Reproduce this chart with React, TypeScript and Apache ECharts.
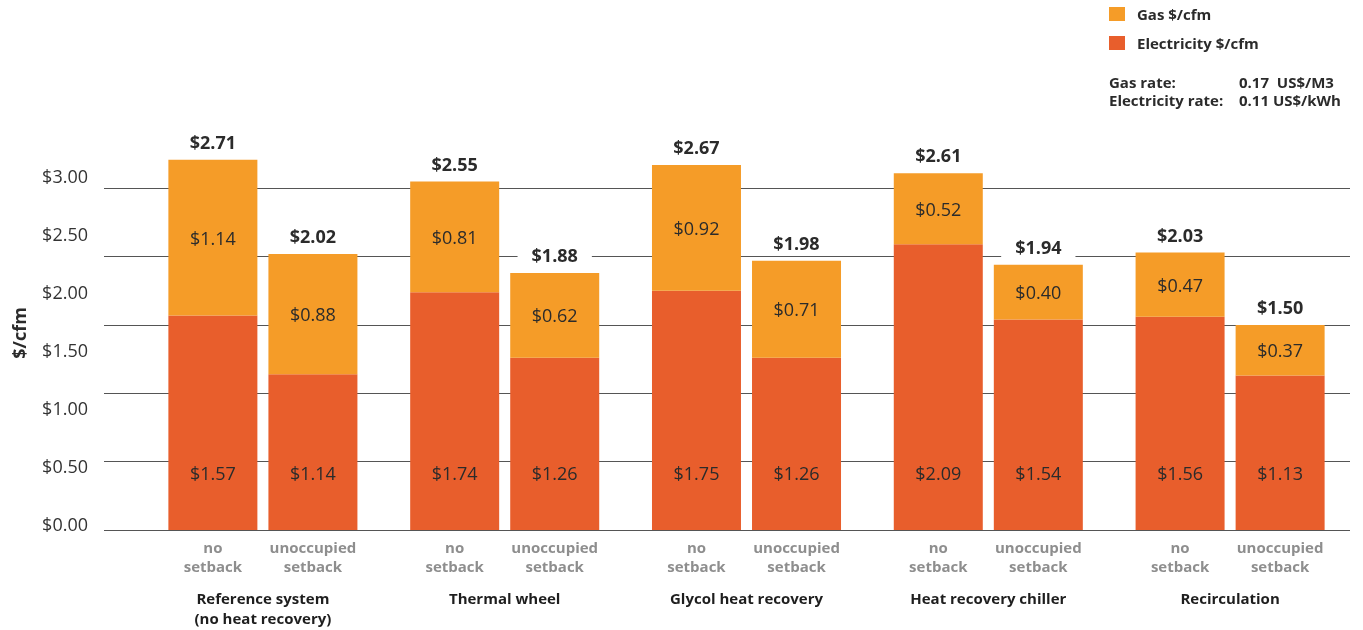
import React, { useEffect, useRef } from "react";
import * as echarts from "echarts";

const FONT = "'Open Sans', 'Noto Sans', sans-serif";

const groups = [
  "Reference system\n(no heat recovery)",
  "Thermal wheel",
  "Glycol heat recovery",
  "Heat recovery chiller",
  "Recirculation",
];
const subLabels = ["no\nsetback", "unoccupied\nsetback"];

const elecNoSetback = [1.57, 1.74, 1.75, 2.09, 1.56];
const gasNoSetback = [1.14, 0.81, 0.92, 0.52, 0.47];
const totalNoSetback = [2.71, 2.55, 2.67, 2.61, 2.03];

const elecUnoccupied = [1.14, 1.26, 1.26, 1.54, 1.13];
const gasUnoccupied = [0.88, 0.62, 0.71, 0.4, 0.37];
const totalUnoccupied = [2.02, 1.88, 1.98, 1.94, 1.5];

const yTickMax = 3;
const yTickStep = 0.5;

const ELEC = "#E85E2C";
const GAS = "#F59C28";
const TXT = "#2b2b2b";

const money = (v: number) => "$" + v.toFixed(2);

function stackSeries(stack: string, sub: string, elec: number[], gas: number[], totals: number[]) {
  return [
    {
      type: "bar",
      name: "_sub_" + stack,
      stack,
      barWidth: 89,
      barGap: "12.4%",
      data: elec.map(() => 0),
      itemStyle: { color: "transparent" },
      silent: true,
      label: {
        show: true,
        position: "bottom",
        distance: 7,
        formatter: () => sub,
        color: "#8e8e8e",
        fontWeight: "bold",
        fontSize: 15,
        lineHeight: 19,
        fontFamily: FONT,
        align: "center",
      },
    },
    {
      type: "bar",
      name: "Electricity $/cfm",
      stack,
      barWidth: 89,
      barGap: "12.4%",
      data: elec,
      itemStyle: { color: ELEC },
      label: {
        show: true,
        position: "insideBottom",
        distance: 46,
        formatter: (p: any) => money(p.value),
        color: TXT,
        fontSize: 18,
        lineHeight: 22,
        fontFamily: FONT,
      },
    },
    {
      type: "bar",
      name: "Gas $/cfm",
      stack,
      barWidth: 89,
      barGap: "12.4%",
      data: gas,
      itemStyle: { color: GAS },
      label: {
        show: true,
        position: "inside",
        formatter: (p: any) => money(p.value),
        color: TXT,
        fontSize: 18,
        lineHeight: 22,
        fontFamily: FONT,
      },
    },
    {
      type: "bar",
      name: "_total_" + stack,
      stack,
      barWidth: 89,
      barGap: "12.4%",
      data: totals.map(() => 0),
      itemStyle: { color: "transparent" },
      silent: true,
      z: 5,
      label: {
        show: true,
        position: "top",
        distance: 5,
        formatter: (p: any) => money(totals[p.dataIndex]),
        color: TXT,
        fontWeight: "bold",
        fontSize: 18,
        lineHeight: 22,
        fontFamily: FONT,
        backgroundColor: "#ffffff",
        padding: [2, 14],
      },
    },
  ];
}

export default function App() {
  const ref = useRef<HTMLDivElement>(null);
  useEffect(() => {
    if (!ref.current) return;
    const chart = echarts.init(ref.current, undefined, { renderer: "svg" });
    const option: any = {
      animation: false,
      textStyle: { fontFamily: FONT },
      legend: {
        show: true,
        orient: "vertical",
        left: 1109,
        top: 4,
        padding: 0,
        itemWidth: 16,
        itemHeight: 14,
        itemGap: 9,
        icon: "rect",
        data: ["Gas $/cfm", "Electricity $/cfm"],
        selectedMode: false,
        textStyle: {
          fontFamily: FONT,
          fontWeight: "bold",
          fontSize: 15,
          color: TXT,
          lineHeight: 20,
          padding: [0, 0, 0, 7],
        },
      },
      graphic: [
        {
          type: "text",
          left: 1109,
          top: 74,
          style: { text: "Gas rate:", font: `bold 15px ${FONT}`, fill: TXT },
        },
        {
          type: "text",
          left: 1239,
          top: 74,
          style: { text: "0.17  US$/M3", font: `bold 15px ${FONT}`, fill: TXT },
        },
        {
          type: "text",
          left: 1109,
          top: 92,
          style: { text: "Electricity rate:", font: `bold 15px ${FONT}`, fill: TXT },
        },
        {
          type: "text",
          left: 1239,
          top: 92,
          style: { text: "0.11 US$/kWh", font: `bold 15px ${FONT}`, fill: TXT },
        },
        {
          type: "text",
          x: 19,
          y: 333,
          rotation: Math.PI / 2,
          style: {
            text: "$/cfm",
            font: `bold 18px ${FONT}`,
            fill: TXT,
            align: "center",
            verticalAlign: "middle",
          },
        },
      ],
      grid: [
        { left: 142, right: 12, top: 120, bottom: 100 },
        { left: 96, width: 10, top: 176, bottom: 106 },
        { left: 104, right: 13, top: 188, bottom: 100 },
      ],
      xAxis: [
        {
          type: "category",
          gridIndex: 0,
          data: groups,
          axisLine: { show: false },
          axisTick: { show: false },
          axisLabel: {
            interval: 0,
            margin: 58,
            fontWeight: "bold",
            fontSize: 15,
            lineHeight: 20,
            color: "#1e1e1e",
            fontFamily: FONT,
          },
        },
        { type: "value", gridIndex: 1, show: false, min: 0, max: 1 },
        { type: "value", gridIndex: 2, show: false, min: 0, max: 1 },
      ],
      yAxis: [
        { type: "value", gridIndex: 0, min: 0, max: yTickMax, show: false },
        {
          type: "value",
          gridIndex: 1,
          min: 0,
          max: yTickMax,
          interval: yTickStep,
          axisLine: { show: false },
          axisTick: { show: false },
          splitLine: { show: false },
          axisLabel: {
            formatter: (v: number) => money(v),
            fontSize: 18,
            color: "#333",
            margin: 8,
            fontFamily: FONT,
          },
        },
        {
          type: "value",
          gridIndex: 2,
          min: 0,
          max: 2.5,
          interval: yTickStep,
          axisLine: { show: false },
          axisTick: { show: false },
          axisLabel: { show: false },
          splitLine: { show: true, lineStyle: { color: "#555", width: 1.2 } },
        },
      ],
      series: [
        ...stackSeries("a", subLabels[0], elecNoSetback, gasNoSetback, totalNoSetback),
        ...stackSeries("b", subLabels[1], elecUnoccupied, gasUnoccupied, totalUnoccupied),
      ],
    };
    chart.setOption(option);
    return () => chart.dispose();
  }, []);
  return (
    <div
      ref={ref}
      style={{ position: "fixed", left: 0, top: 0, width: 1363, height: 630 }}
    />
  );
}
